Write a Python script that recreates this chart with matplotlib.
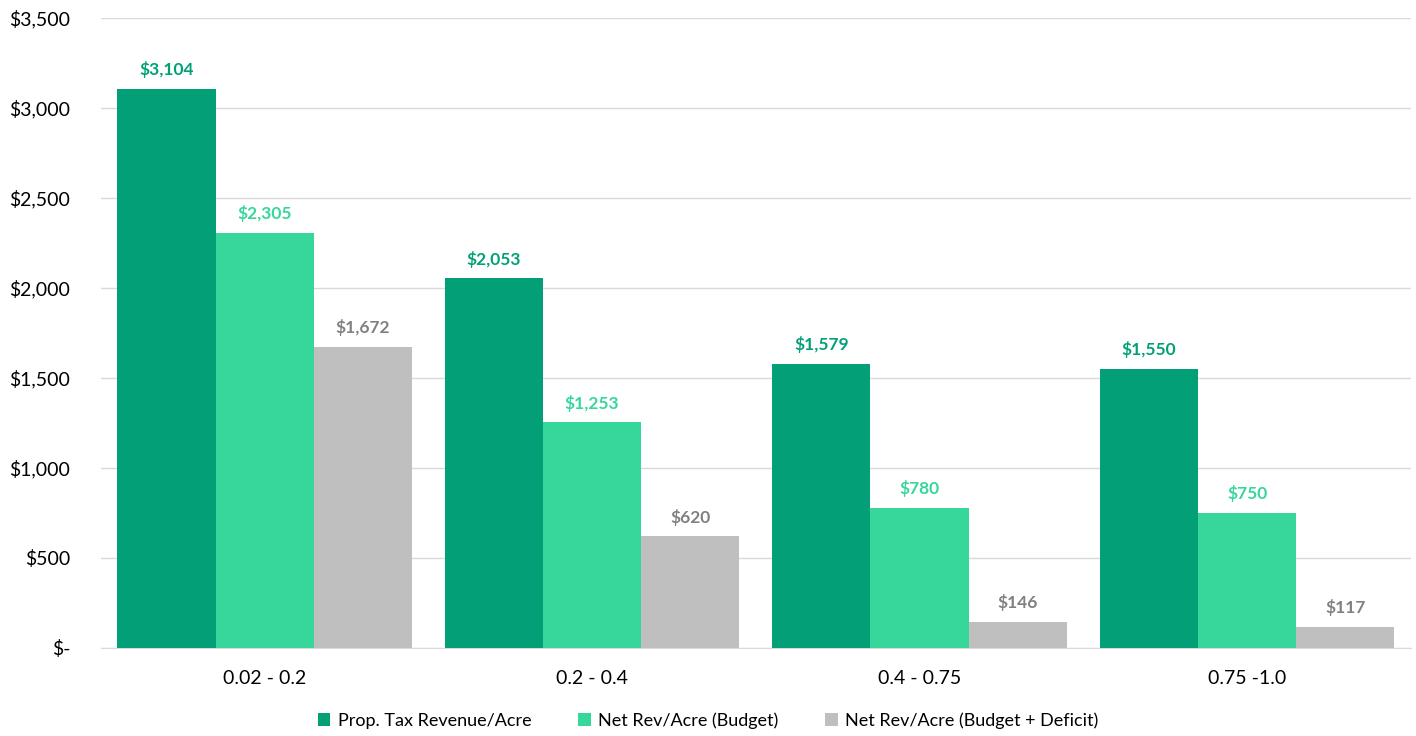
import numpy as np
import matplotlib.pyplot as plt

categories = ['0.02 - 0.2', '0.2 - 0.4', '0.4 - 0.75', '0.75 -1.0']
series_names = ['Prop. Tax Revenue/Acre', 'Net Rev/Acre (Budget)', 'Net Rev/Acre (Budget + Deficit)']
tax_rev = [3104, 2053, 1579, 1550]
net_budget = [2305, 1253, 780, 750]
net_deficit = [1672, 620, 146, 117]
y_ticks = [0, 500, 1000, 1500, 2000, 2500, 3000, 3500]

bar_colors = ['#03A077', '#37D69A', '#BFBFBF']
label_colors = ['#03A077', '#37D69A', '#808080']

plt.rcParams['font.family'] = ['Lato', 'DejaVu Sans']

fig = plt.figure(figsize=(14.16, 7.36), dpi=100)
ax = fig.add_axes([0.0713, 0.1196, 0.925, 0.856])

x = np.arange(len(categories))
width = 0.3
for i, vals in enumerate([tax_rev, net_budget, net_deficit]):
    pos = x + (i - 1) * width
    ax.bar(pos, vals, width, color=bar_colors[i], label=series_names[i], zorder=3)
    for p, v in zip(pos, vals):
        ax.text(p, v + 60, f'${v:,}', ha='center', va='bottom', fontsize=12.5,
                fontweight='bold', color=label_colors[i])

ax.set_xlim(-0.5, 3.5)
ax.set_ylim(0, 3500)
ax.set_yticks(y_ticks)
ax.set_yticklabels(['$-' if t == 0 else f'${t:,}' for t in y_ticks])
ax.set_xticks(x)
ax.set_xticklabels(categories)
ax.tick_params(axis='both', length=0, labelsize=14, colors='#000000')
ax.tick_params(axis='y', pad=22)
ax.tick_params(axis='x', pad=16)
ax.grid(axis='y', color='#D9D9D9', linewidth=1, zorder=0)
for s in ['top', 'right', 'left']:
    ax.spines[s].set_visible(False)
ax.spines['bottom'].set_color('#D9D9D9')

fig.legend(loc='lower center', bbox_to_anchor=(0.5, -0.012), ncol=3, frameon=False,
           fontsize=13, handlelength=0.7, handleheight=0.7, columnspacing=2.6, handletextpad=0.4)

fig.savefig('out.png', dpi=100)
